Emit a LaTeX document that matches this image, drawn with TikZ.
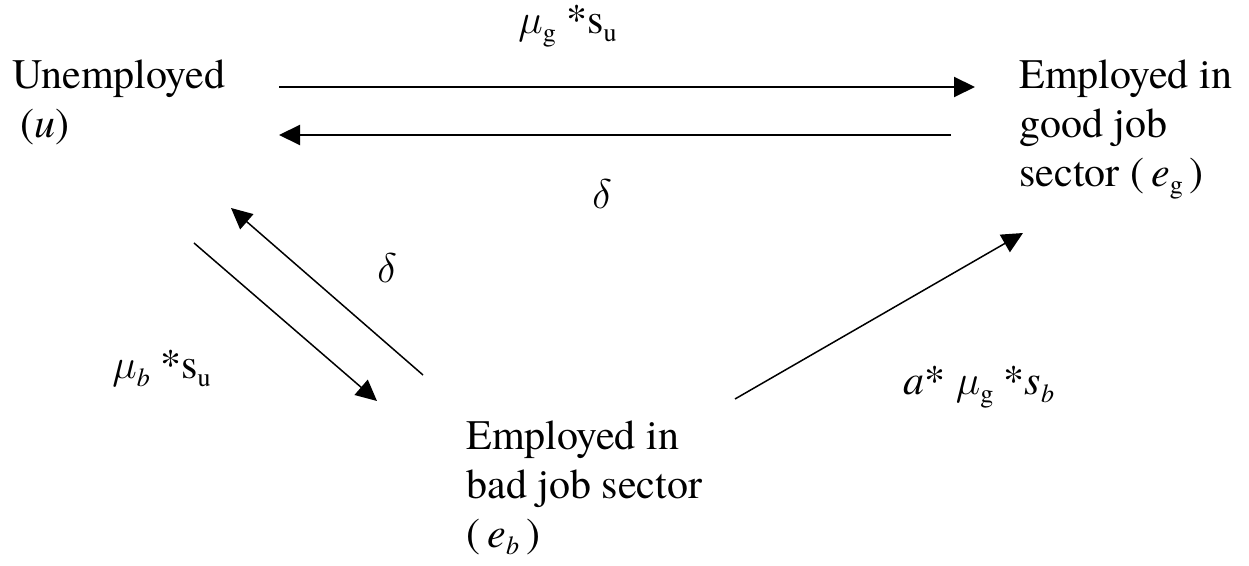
\documentclass[tikz,border=0pt]{standalone}
\usepackage{fontspec}
\setmainfont{texgyretermes}[Extension=.otf, UprightFont=*-regular, ItalicFont=*-italic, BoldFont=*-bold, BoldItalicFont=*-bolditalic]
\usepackage{tikz}
\usetikzlibrary{arrows.meta,positioning}

% lowered subscript in text fonts
\newcommand{\lo}[1]{\raisebox{-3.8pt}{\fontsize{13}{13}\selectfont #1}}

\begin{document}
\begin{tikzpicture}[
x=0.5pt, y=-0.5pt,
state/.style={inner sep=0, anchor=north west, align=left, font=\fontsize{21}{24.5}\selectfont},
lbl/.style={inner sep=0, anchor=base west, font=\fontsize{21}{24.5}\selectfont},
arr/.style={-{Triangle[length=10.5pt,width=10pt]}, line width=1pt},
darr/.style={-{Triangle[length=10.5pt,width=10pt]}, line width=0.75pt}
]
\useasboundingbox (0,0) rectangle (1249,566);

\node[state] (u) at (12,59) {Unemployed\\\hspace{4pt}(\textit{u})};
\node[state] (eg) at (1019,59) {Employed in\\good job\\sector (\,\textit{e}\lo{g}\,)};
\node[state] (eb) at (466,420) {Employed in\\bad job sector\\(\,\textit{e}\lo{\textit{b}}\,)};

% arrow ends
\coordinate (u-eg) at (279,87);
\coordinate (eg-in) at (975,87);
\coordinate (eg-u) at (951,135);
\coordinate (u-in) at (279,135);
\coordinate (u-eb) at (194,243);
\coordinate (eb-in) at (377,401);
\coordinate (eb-u) at (423,375);
\coordinate (u-in2) at (231,208);
\coordinate (eb-eg) at (735,399);
\coordinate (eg-in2) at (1023,233);

\draw[arr] (u-eg) -- (eg-in);
\draw[arr] (eg-u) -- (u-in);
\draw[darr] (u-eb) -- (eb-in);
\draw[darr] (eb-u) -- (u-in2);
\draw[darr] (eb-eg) -- (eg-in2);

% rates
\node[lbl] (rug) at (518,34) {$\mu$\lo{g} *s\lo{u}};
\node[lbl] (rgu) at (592,209) {$\delta$};
\node[lbl] (rbu) at (377,283) {$\delta$};
\node[lbl] (rub) at (112,379) {$\mu$\lo{\textit{b}} *s\lo{u}};
\node[lbl] (rbg) at (903,395) {\textit{a}* $\mu$\lo{g} *\textit{s}\lo{\textit{b}}};
\end{tikzpicture}
\end{document}
